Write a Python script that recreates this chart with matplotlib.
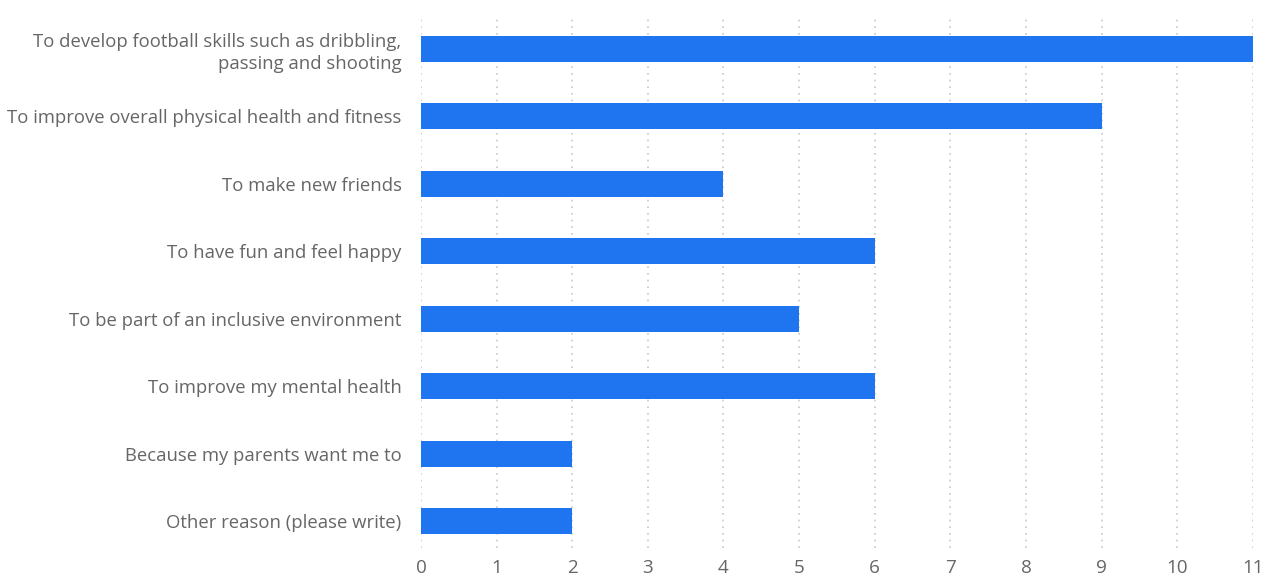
import matplotlib.pyplot as plt

plt.rcParams["font.family"] = ["Open Sans", "DejaVu Sans"]

reasons = [
    "To develop football skills such as dribbling,\npassing and shooting",
    "To improve overall physical health and fitness",
    "To make new friends",
    "To have fun and feel happy",
    "To be part of an inclusive environment",
    "To improve my mental health",
    "Because my parents want me to",
    "Other reason (please write)",
]
counts = [11, 9, 4, 6, 5, 6, 2, 2]
x_ticks = list(range(0, 12))

bar_color = "#1f75f0"
text_color = "#666666"

fig = plt.figure(figsize=(12.71, 5.79), dpi=100)
ax = fig.add_axes([0.3312, 0.0535, 0.6546, 0.9205])

ypos = list(range(len(reasons)))
ax.barh(ypos, counts, height=0.385, color=bar_color, zorder=3)

ax.set_xlim(0, 11)
ax.set_ylim(7.4, -0.5)
ax.set_xticks(x_ticks)
ax.set_yticks(ypos)
ax.set_yticklabels(reasons, fontsize=13.3, color=text_color, linespacing=1.28)
ax.tick_params(axis="x", labelsize=13.6, labelcolor=text_color, length=0, pad=8)
ax.tick_params(axis="y", length=0, pad=14)

for t in ax.get_yticklabels():
    t.set_horizontalalignment("right")

ax.grid(axis="x", linestyle=(0, (1, 3)), color="#c8c8c8", linewidth=1.2, zorder=0)
ax.grid(axis="y", visible=False)
for s in ax.spines.values():
    s.set_visible(False)

fig.savefig("out.png", dpi=100)
